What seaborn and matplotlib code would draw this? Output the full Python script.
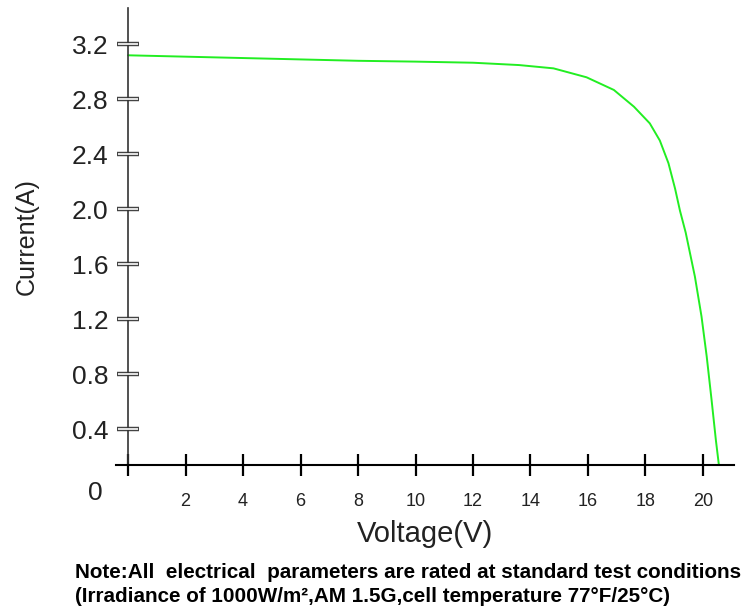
import matplotlib
matplotlib.use("Agg")
import matplotlib.pyplot as plt
import seaborn as sns
import pandas as pd

voltage = [0, 2, 4, 6, 8, 10, 12, 13.6, 14.8, 15.95, 16.9, 17.6, 18.15, 18.5, 18.8, 19.03,
           19.2, 19.4, 19.72, 19.95, 20.13, 20.3, 20.45, 20.56]
current = [3.12, 3.11, 3.10, 3.09, 3.08, 3.074, 3.066, 3.049, 3.025, 2.96, 2.868, 2.746, 2.625, 2.50, 2.335, 2.15,
           1.99, 1.83, 1.51, 1.22, 0.93, 0.613, 0.32, 0.13]

x_ticks = [0, 2, 4, 6, 8, 10, 12, 14, 16, 18, 20]
x_tick_labels = ["", "2", "4", "6", "8", "10", "12", "14", "16", "18", "20"]
y_ticks = [0.4, 0.8, 1.2, 1.6, 2.0, 2.4, 2.8, 3.2]
y_tick_labels = ["0.4", "0.8", "1.2", "1.6", "2.0", "2.4", "2.8", "3.2"]

sns.set_theme(style="white")
plt.rcParams['font.family'] = ['Liberation Sans', 'DejaVu Sans']

fig = plt.figure(figsize=(7.43, 6.12), dpi=100)
ax = fig.add_axes([116/743, 1 - 465/612, (734-116)/743, (465-8)/612])

df = pd.DataFrame({"Voltage": voltage, "Current": current})
sns.lineplot(data=df, x="Voltage", y="Current", ax=ax, color="#22ee22", linewidth=1.4)

ax.set_xlim(-0.42, 21.08)
ax.set_ylim(0.14, 3.464)

for s in ["top", "right"]:
    ax.spines[s].set_visible(False)
ax.spines["left"].set_position(("data", 0))
ax.spines["left"].set_color("#333333")
ax.spines["left"].set_linewidth(1.2)
ax.spines["bottom"].set_color("black")
ax.spines["bottom"].set_linewidth(1.5)

ax.set_xticks(x_ticks)
ax.set_xticklabels(x_tick_labels, fontsize=13, color="#222222")
ax.set_yticks(y_ticks)
ax.set_yticklabels(y_tick_labels, fontsize=19, color="#222222")
ax.tick_params(axis="x", direction="inout", length=16, width=1.6, color="black", pad=12, bottom=True)
ax.tick_params(axis="y", direction="inout", length=16, width=3.2, color="#444444", pad=6, left=True)

# white inner line for hollow y ticks
tw = ax.twinx()
tw.set_ylim(ax.get_ylim())
tw.set_yticks(y_ticks)
tw.yaxis.tick_left()
tw.spines["left"].set_position(("data", 0))
for s in ["top", "right", "bottom", "left"]:
    tw.spines[s].set_visible(False)
tw.tick_params(axis="y", direction="inout", length=14, width=1.2, color="white", labelleft=False, left=True)

ax.set_xlabel("Voltage(V)", fontsize=21, color="#222222", labelpad=7)
ax.set_ylabel("Current(A)", fontsize=18, color="#222222", labelpad=24)

fig.text(95/743, 1 - 493/612, "0", fontsize=19, ha="center", va="center", color="#222222")

fig.text(75/743, 1 - 573/612, "Note:All  electrical  parameters are rated at standard test conditions",
         fontsize=14.9, fontweight="bold", ha="left", va="center", color="black")
fig.text(75/743, 1 - 597/612, "(Irradiance of 1000W/m\u00b2,AM 1.5G,cell temperature 77\u00b0F/25\u00b0C)",
         fontsize=14.9, fontweight="bold", ha="left", va="center", color="black")

fig.savefig("out.png", dpi=100)
